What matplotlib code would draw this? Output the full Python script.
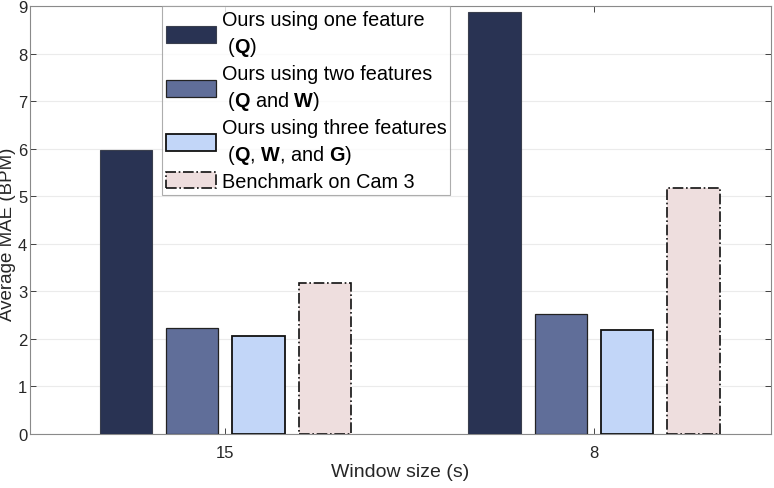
import numpy as np
import matplotlib
matplotlib.use('Agg')
import matplotlib.pyplot as plt

plt.rcParams['font.family'] = ['Liberation Sans', 'DejaVu Sans']
plt.rcParams['mathtext.fontset'] = 'custom'
plt.rcParams['mathtext.rm'] = 'Liberation Sans'
plt.rcParams['mathtext.bf'] = 'Liberation Sans:bold'

# data
window_sizes = ['15', '8']
one_feature = [5.98, 8.87]
two_features = [2.23, 2.52]
three_features = [2.06, 2.19]
benchmark = [3.17, 5.18]

labels = ['Ours using one feature\n ($\\mathbf{Q}$)',
          'Ours using two features\n ($\\mathbf{Q}$ and $\\mathbf{W}$)',
          'Ours using three features\n ($\\mathbf{Q}$, $\\mathbf{W}$, and $\\mathbf{G}$)',
          'Benchmark on Cam 3']

fig = plt.figure(figsize=(7.74, 4.89), dpi=100)
ax = fig.add_axes([30/774, 54/489, 741/774, 428/489])

x = np.arange(1, len(window_sizes) + 1)
w = 0.142
offs = [-0.27, -0.09, 0.09, 0.27]

ax.bar(x + offs[0], one_feature, w, color='#293353', edgecolor='#3a3f4e', lw=0.8, label=labels[0], zorder=3)
ax.bar(x + offs[1], two_features, w, color='#606e99', edgecolor='#222222', lw=0.9, label=labels[1], zorder=3)
ax.bar(x + offs[2], three_features, w, color='#c2d6f8', edgecolor='#111111', lw=1.3, label=labels[2], zorder=3)
ax.bar(x + offs[3], benchmark, w, color='#eedede', edgecolor='#111111', lw=1.2, linestyle='-.', label=labels[3], zorder=3)

ax.set_xlim(0.47, 2.48)
ax.set_ylim(0, 9)
ax.set_yticks(range(0, 10))
ax.set_xticks(x)
ax.set_xticklabels(window_sizes)
ax.tick_params(axis='both', labelsize=12, colors='#262626', direction='in', length=4,
               top=True, right=True, width=0.6)
ax.tick_params(axis='x', pad=8)
ax.tick_params(axis='y', pad=2)
ax.yaxis.grid(True, color='#ebebeb', lw=0.8, zorder=0)
for s in ax.spines.values():
    s.set_color('#8a8a8a')
    s.set_linewidth(0.8)

ax.set_xlabel('Window size (s)', fontsize=14, color='#262626', labelpad=2)
ax.set_ylabel('Average MAE (BPM)', fontsize=13.5, color='#262626')
ax.yaxis.set_label_coords(-13.5/741, 0.47)

leg = ax.legend(loc='upper left', bbox_to_anchor=(162/774, 1 - 7/489), bbox_transform=fig.transFigure,
                fontsize=14.3, frameon=True, fancybox=False, edgecolor='#999999',
                handlelength=2.5, handleheight=0.9, handletextpad=0.3, labelspacing=0.3,
                borderpad=0.2, borderaxespad=0)
for t in leg.get_texts():
    t.set_linespacing(1.35)
leg.get_frame().set_linewidth(0.8)
leg.set_zorder(5)

plt.savefig('out.png', dpi=100)
